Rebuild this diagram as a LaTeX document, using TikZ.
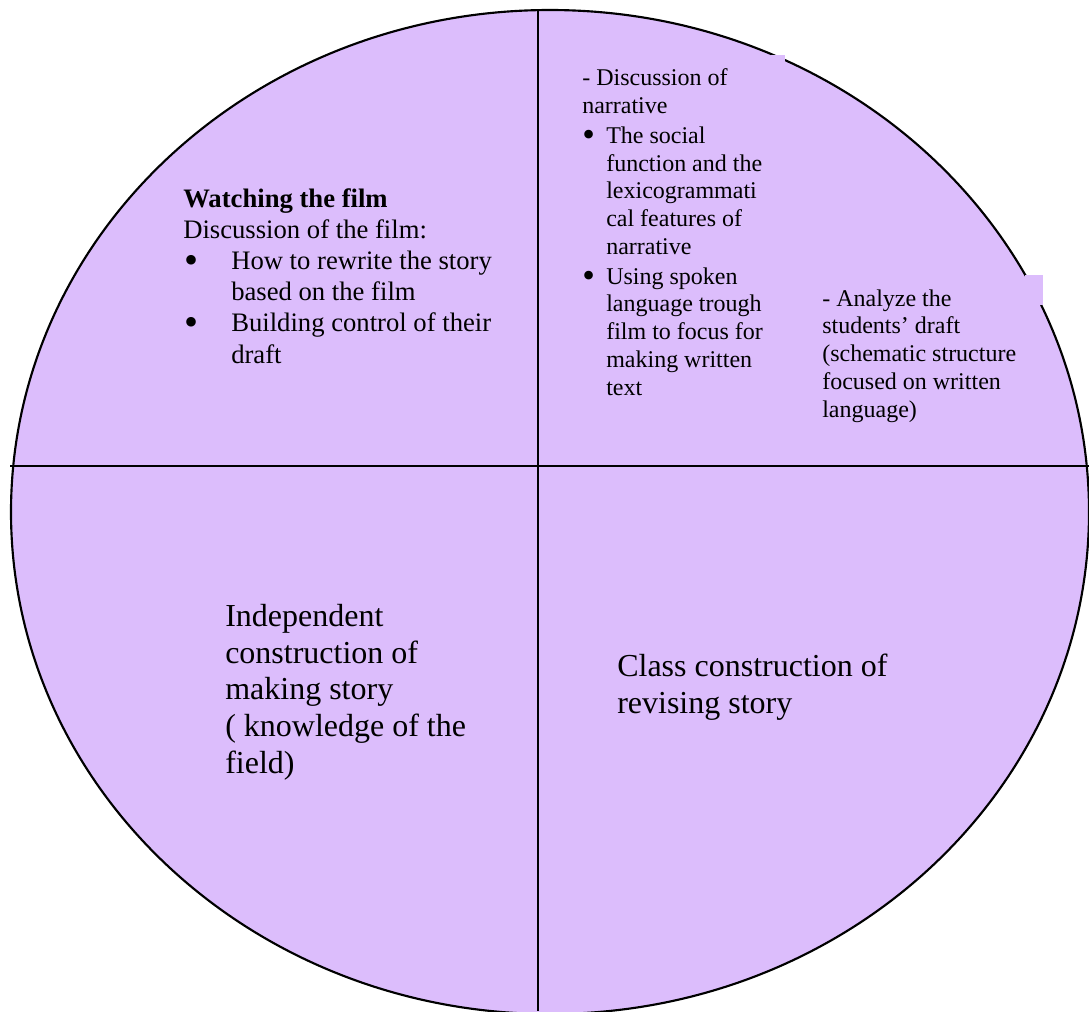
\documentclass[tikz,border=0pt]{standalone}
\usepackage{fontspec}
\setmainfont{Liberation Serif}
\definecolor{lilac}{RGB}{220,189,252}
\newcommand{\bigdot}{\raisebox{-0.14em}{\scalebox{1.5}{\textbullet}}}
\tikzset{
  quadtext/.style = {anchor = base west, align = left, inner sep = 0pt},
}
\begin{document}
\begin{tikzpicture}[x = 0.75pt, y = -0.75pt]
\useasboundingbox (0,0) rectangle (1089,1011);
% the wheel
\filldraw[fill = lilac, draw = black, line width = 1.6pt] (550,512) ellipse [x radius = 404.25pt, y radius = 376.5pt];
\coordinate (top) at (538,10);
\coordinate (bottom) at (538,1011);
\coordinate (left) at (10,466);
\coordinate (right) at (1089,466);
\draw[line width = 1.1pt] (top) -- (bottom);
\draw[line width = 1.1pt] (left) -- (right);
% text box patches over the rim
\fill[lilac] (771,55) rectangle (785,75);
\fill[lilac] (1025,275) rectangle (1043,305);
% quarters (nodes sit on the baseline of their last line)
\node[quadtext, font = \fontsize{20}{23.4}\selectfont] (watch) at (183,363)
  {\textbf{Watching the film}\\
   Discussion of the film:\\
   \makebox[36pt][l]{\hspace{1pt}\bigdot}How to rewrite the story\\
   \hspace*{36pt}based on the film\\
   \makebox[36pt][l]{\hspace{1pt}\bigdot}Building control of their\\
   \hspace*{36pt}draft};
\node[quadtext, font = \fontsize{18}{20.8}\selectfont] (narr) at (582,395)
  {- Discussion of\\
   narrative\\[1.5pt]
   \makebox[18pt][l]{\bigdot}The social\\
   \hspace*{18pt}function and the\\
   \hspace*{18pt}lexicogrammati\\
   \hspace*{18pt}cal features of\\
   \hspace*{18pt}narrative\\[1.5pt]
   \makebox[18pt][l]{\bigdot}Using spoken\\
   \hspace*{18pt}language trough\\
   \hspace*{18pt}film to focus for\\
   \hspace*{18pt}making written\\
   \hspace*{18pt}text};
\node[quadtext, font = \fontsize{18}{20.8}\selectfont] (analyze) at (822,417)
  {- Analyze the\\
   students’ draft\\
   (schematic structure\\
   focused on written\\
   language)};
\node[quadtext, font = \fontsize{24}{27.5}\selectfont] (indep) at (225,773)
  {Independent\\
   construction of\\
   making story\\
   ( knowledge of the\\
   field)};
\node[quadtext, font = \fontsize{24}{27.5}\selectfont] (classc) at (617,713)
  {Class construction of\\
   revising story};
\end{tikzpicture}
\end{document}
